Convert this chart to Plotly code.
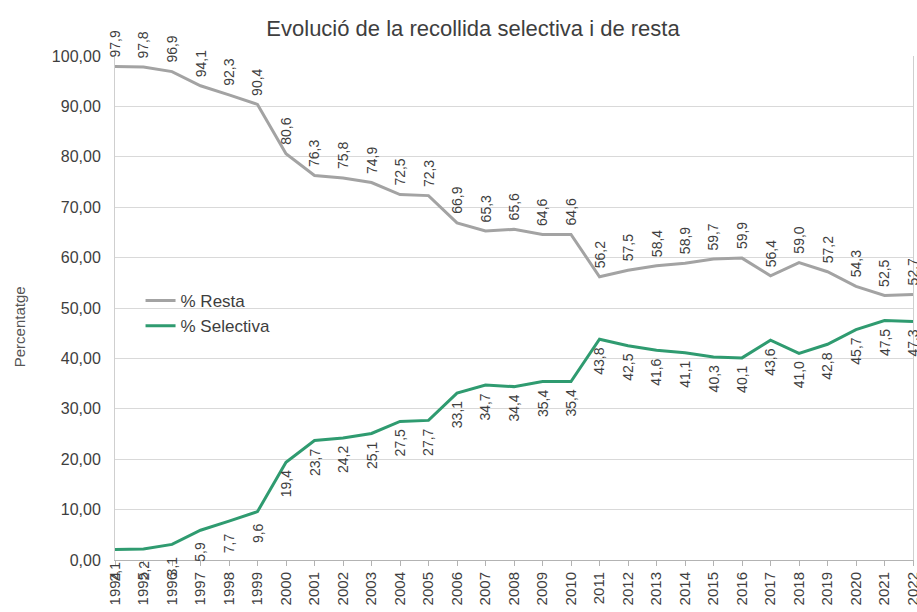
import plotly.graph_objects as go

# Dades anuals de recollida (%)
years = list(range(1994, 2023))
resta = [97.9, 97.8, 96.9, 94.1, 92.3, 90.4, 80.6, 76.3, 75.8, 74.9, 72.5, 72.3,
         66.9, 65.3, 65.6, 64.6, 64.6, 56.2, 57.5, 58.4, 58.9, 59.7, 59.9, 56.4,
         59.0, 57.2, 54.3, 52.5, 52.7]
selectiva = [2.1, 2.2, 3.1, 5.9, 7.7, 9.6, 19.4, 23.7, 24.2, 25.1, 27.5, 27.7,
             33.1, 34.7, 34.4, 35.4, 35.4, 43.8, 42.5, 41.6, 41.1, 40.3, 40.1, 43.6,
             41.0, 42.8, 45.7, 47.5, 47.3]
year_labels = [str(y) for y in years]

FONT = "Liberation Sans, Arial, sans-serif"
GRAY = "#a3a3a3"
GREEN = "#2f9b70"
TXT = "#3e3e3e"

def fmt(v):
    return f"{v:.1f}".replace(".", ",")

fig = go.Figure()
fig.add_trace(go.Scatter(x=years, y=resta, mode="lines", name="% Resta",
                         line=dict(color=GRAY, width=3)))
fig.add_trace(go.Scatter(x=years, y=selectiva, mode="lines", name="% Selectiva",
                         line=dict(color=GREEN, width=3)))

annotations = []
for x, r, s in zip(years, resta, selectiva):
    annotations.append(dict(x=x, y=r, xref="x", yref="y", text=fmt(r), showarrow=False,
                            textangle=-90, yshift=22, font=dict(family=FONT, size=14, color=TXT)))
    annotations.append(dict(x=x, y=s, xref="x", yref="y", text=fmt(s), showarrow=False,
                            textangle=-90, yshift=-22, font=dict(family=FONT, size=14, color=TXT)))

# Títol de l'eix vertical (posició en coordenades de paper)
annotations.append(dict(x=(19 - 115) / 800, y=(560 - 327) / 504, xref="paper", yref="paper",
                        text="Percentatge", showarrow=False, textangle=-90,
                        xanchor="center", yanchor="middle",
                        font=dict(family=FONT, size=15, color="#555")))

fig.update_layout(
    width=917, height=612,
    margin=dict(l=115, r=4, t=56, b=52),
    paper_bgcolor="white", plot_bgcolor="white",
    separators=",.",
    font=dict(family=FONT, size=12, color=TXT),
    title=dict(text="Evolució de la recollida selectiva i de resta",
               x=473 / 917, xanchor="center", y=1 - 28 / 612, yanchor="middle",
               font=dict(family=FONT, size=22, color=TXT)),
    showlegend=True,
    legend=dict(x=0.032, y=(560 - 283) / 504, xanchor="left", yanchor="top",
                bgcolor="rgba(0,0,0,0)", font=dict(family=FONT, size=17, color=TXT),
                tracegroupgap=0),
    xaxis=dict(range=[1994, 2022], tickmode="array", tickvals=years, ticktext=year_labels,
               tickangle=-90, ticks="outside", ticklen=5, tickcolor="#b3b3b3",
               ticklabeloverflow="allow", automargin=False,
               showgrid=False, showline=True, linecolor="#b3b3b3", linewidth=1,
               zeroline=False, tickfont=dict(family=FONT, size=15, color=TXT)),
    yaxis=dict(range=[0, 100], dtick=10, tickformat=".2f", showgrid=True,
               gridcolor="#d9d9d9", gridwidth=1, showline=True, mirror=True,
               linecolor="#cfcfcf", linewidth=1, zeroline=False, ticks="",
               ticklabelstandoff=10, automargin=False,
               tickfont=dict(family=FONT, size=16, color=TXT)),
    annotations=annotations,
)

fig.write_html("out.html")
